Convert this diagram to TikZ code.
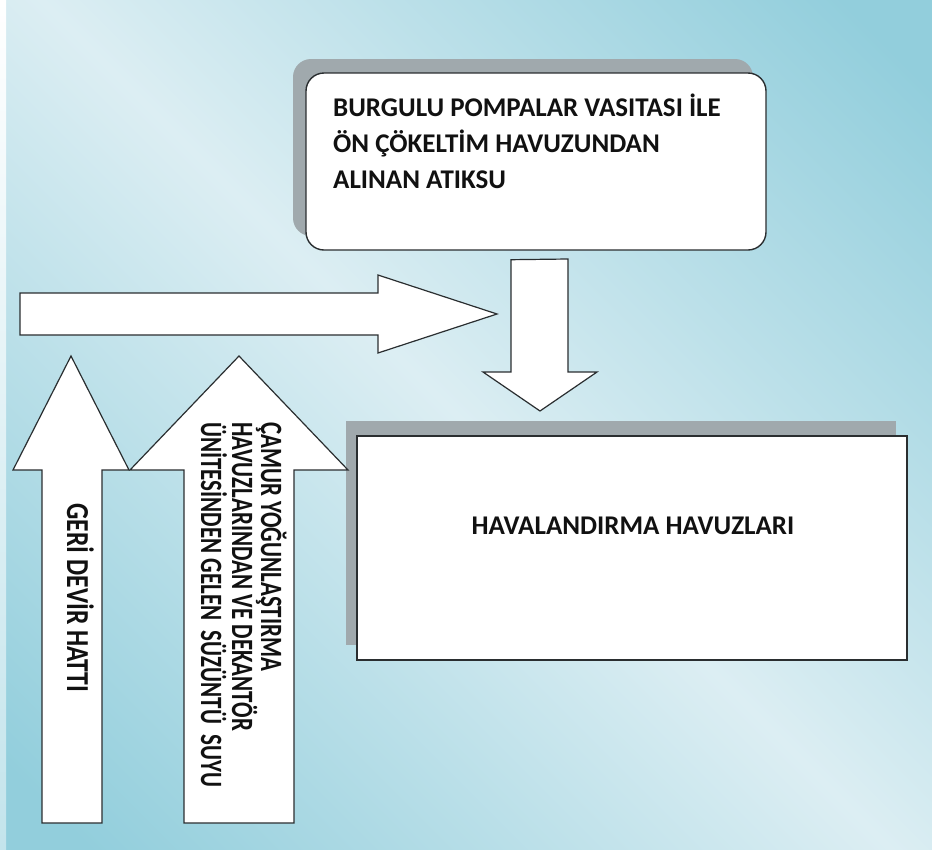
\documentclass[tikz,border=0pt]{standalone}
\usepackage{fontspec}
\setmainfont{Carlito}
\newfontfamily\recyclefont[FakeStretch=0.8]{Carlito}
\newfontfamily\filtratefont[FakeStretch=0.74]{Carlito}
\usetikzlibrary{shadows}

\definecolor{bgdark}{HTML}{92CEDC}
\definecolor{bglight}{HTML}{DCEEF3}
\definecolor{shadowgray}{HTML}{A0A9AD}
\definecolor{outline}{HTML}{2A2E30}
\definecolor{ink}{HTML}{111111}

% diagonal light band from the upper left to the lower right corner
\pgfdeclarehorizontalshading{bgband}{100bp}{%
  color(0bp)=(bgdark); color(18bp)=(bgdark); color(50bp)=(bglight);
  color(82bp)=(bgdark); color(100bp)=(bgdark)}

\tikzset{
  roundbox/.style={draw=outline, line width=1.4pt, fill=white, rounded corners=18pt,
    inner sep=0pt,
    drop shadow={shadow xshift=-13pt, shadow yshift=14pt, fill=shadowgray, opacity=1}},
  plainbox/.style={draw=outline, line width=1.4pt, fill=white, inner sep=0pt,
    drop shadow={shadow xshift=-11pt, shadow yshift=15pt, fill=shadowgray, opacity=1}},
  blockarrow/.style={draw=outline, line width=1.2pt, fill=white, line join=miter},
  boxtext/.style={font=\fontsize{27}{32}\selectfont\bfseries, text=ink, inner sep=0pt},
  recycletext/.style={font=\recyclefont\fontsize{32}{34}\selectfont\bfseries, text=ink,
    inner sep=0pt, rotate=-90},
  filtratetext/.style={font=\filtratefont\fontsize{31}{32}\selectfont\bfseries, text=ink,
    inner sep=0pt, rotate=-90, anchor=base west},
}

\begin{document}
\begin{tikzpicture}[x=1pt, y=-1pt]
  \useasboundingbox (0,0) rectangle (932,849);

  % background
  \shade[shading=bgband, shading angle=45] (0,0) rectangle (932,849);
  \shade[top color=white, bottom color=white!45!bgdark] (0,0) rectangle (6,849);

  % pumped inflow box
  \node[roundbox, minimum width=460pt, minimum height=177pt] (pump) at (536,161.5) {};
  \node[boxtext, anchor=base west] (pumpA) at (333,116) {BURGULU POMPALAR VASITASI İLE};
  \node[boxtext, anchor=base west] (pumpB) at (333,152) {ÖN ÇÖKELTİM HAVUZUNDAN};
  \node[boxtext, anchor=base west] (pumpC) at (333,188) {ALINAN ATIKSU};

  % aeration tanks
  \node[plainbox, minimum width=550pt, minimum height=224pt] (aer) at (632,548) {};
  \node[boxtext, anchor=base] (aerT) at (633,534) {HAVALANDIRMA HAVUZLARI};

  % return line feeding into the main flow
  \draw[blockarrow] (20,293) -- (378,293) -- (378,275) -- (497,314) -- (378,353)
    -- (378,335) -- (20,335) -- cycle;

  % downward flow into the aeration tanks
  \draw[blockarrow] (pump.south -| 511,0) ++(0,9) coordinate (dA)
    -- (568,259) -- (568,372) -- (597,372) -- (540,411) coordinate (dTip)
    -- (483,372) -- (511,372) -- cycle;

  % return sludge line
  \draw[blockarrow] (42,823) -- (42,470) -- (13,470) -- (71,356) coordinate (rTip)
    -- (129,470) -- (102,470) -- (102,823) -- cycle;
  \node[recycletext, anchor=base] (rT) at (67,598) {GERİ DEVİR HATTI};

  % filtrate line
  \draw[blockarrow] (184,823) -- (184,470) -- (130,470) -- (239,356) coordinate (fTip)
    -- (348,470) -- (294,470) -- (294,823) -- cycle;
  \node[filtratetext] (fA) at (261,422) {ÇAMUR YOĞUNLAŞTIRMA};
  \node[filtratetext] (fB) at (232,422) {HAVUZLARINDAN VE DEKANTÖR};
  \node[filtratetext] (fC) at (201,422) {ÜNİTESİNDEN GELEN\ \ SÜZÜNTÜ\ \ SUYU};
\end{tikzpicture}
\end{document}
